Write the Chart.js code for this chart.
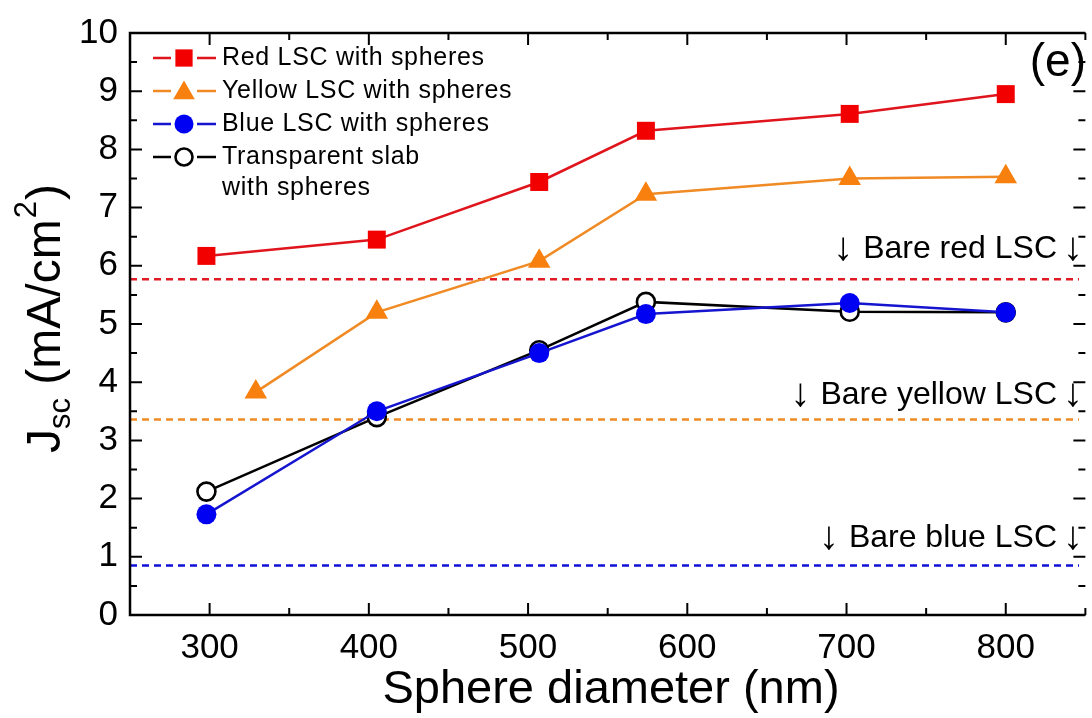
<!DOCTYPE html>
<html>
<head>
<meta charset="utf-8">
<script src="https://cdn.jsdelivr.net/npm/chart.js@4/dist/chart.umd.min.js"></script>
<style>
	html, body { margin: 0; padding: 0; background: #fff; overflow: hidden; }
	canvas { display: block; }
</style>
</head>
<body>
<canvas id="chart" width="1092" height="718"></canvas>
<script>
// values
const diameters = [298, 405, 507, 574, 702, 800];
const yellow_diameters = [329, 405, 507, 574, 702, 800];
const red_jsc = [6.17, 6.45, 7.44, 8.32, 8.61, 8.95];
const yellow_jsc = [3.83, 5.2, 6.08, 7.23, 7.5, 7.53];
const blue_jsc = [1.73, 3.5, 4.5, 5.17, 5.36, 5.2];
const slab_jsc = [2.12, 3.4, 4.55, 5.38, 5.21, 5.2];
const bare_red = 5.77;
const bare_yellow = 3.36;
const bare_blue = 0.85;
// the frame runs 250..850, the picture is cut off just before 850
const x_range = [250, 850];
const x_visible_max = 846;
const x_ticks = [300, 400, 500, 600, 700, 800];
const y_ticks = [0, 1, 2, 3, 4, 5, 6, 7, 8, 9, 10];

const FONT = '"Liberation Sans", Arial, sans-serif';

const to_points = (xs, ys) => xs.map((x, i) => ({ x: x, y: ys[i] }));

const series = [
	{ label: 'Red LSC with spheres', xs: diameters, ys: red_jsc, line: '#e0141c', mark: '#f20000', style: 'rect', r: 12.7, order: 4 },
	{ label: 'Yellow LSC with spheres', xs: yellow_diameters, ys: yellow_jsc, line: '#f08a24', mark: '#f7800f', style: 'triangle', r: 13, order: 3 },
	{ label: 'Blue LSC with spheres', xs: diameters, ys: blue_jsc, line: '#1515d0', mark: '#0000f2', style: 'circle', r: 10, order: 1 },
	{ label: 'Transparent slab|with spheres', xs: diameters, ys: slab_jsc, line: '#000000', mark: '#ffffff', style: 'circle', r: 9, order: 2, open: true },
];

const bare_lines = [
	{ value: bare_red, color: '#e01b24', text: 'Bare red LSC', ty: 249 },
	{ value: bare_yellow, color: '#f08a24', text: 'Bare yellow LSC', ty: 395 },
	{ value: bare_blue, color: '#1010d8', text: 'Bare blue LSC', ty: 538 },
];

const datasets = series.map(s => ({
	label: s.label,
	data: to_points(s.xs, s.ys),
	borderColor: s.line,
	borderWidth: 2.5,
	pointStyle: s.style,
	pointRadius: s.r,
	pointHoverRadius: s.r,
	pointBackgroundColor: s.mark,
	pointBorderColor: s.open ? '#000000' : s.mark,
	pointBorderWidth: s.open ? 2.6 : 0,
	order: s.order,
}));

bare_lines.forEach(b => {
	datasets.push({
		label: b.text,
		data: [{ x: x_range[0], y: b.value }, { x: x_range[1], y: b.value }],
		borderColor: b.color,
		borderWidth: 2.6,
		borderDash: [7, 5],
		pointRadius: 0,
		order: 5,
	});
});

const frame_plugin = {
	id: 'frame',
	afterDatasetsDraw(chart) {
		const { ctx, chartArea: a, scales } = chart;
		const x = scales.x, y = scales.y;
		const right = x.getPixelForValue(x_range[1]);
		ctx.save();
		ctx.strokeStyle = '#000';
		ctx.lineWidth = 2.5;
		// left, bottom and top sides; the right side lies past the edge of the picture
		ctx.beginPath();
		ctx.moveTo(right, a.top); ctx.lineTo(a.left, a.top);
		ctx.lineTo(a.left, a.bottom); ctx.lineTo(right, a.bottom);
		ctx.stroke();
		ctx.lineWidth = 2;
		ctx.beginPath();
		for (let v = x_range[0]; v <= x_range[1]; v += 50) {
			const len = v % 100 === 0 ? 12 : 7;
			const px = x.getPixelForValue(v);
			ctx.moveTo(px, a.bottom); ctx.lineTo(px, a.bottom - len);
			ctx.moveTo(px, a.top); ctx.lineTo(px, a.top + len);
		}
		for (let v = 0; v <= 10; v += 0.5) {
			const len = v % 1 === 0 ? 12 : 7;
			const py = y.getPixelForValue(v);
			ctx.moveTo(a.left, py); ctx.lineTo(a.left + len, py);
			ctx.moveTo(right, py); ctx.lineTo(right - len, py);
		}
		ctx.stroke();
		ctx.restore();
	},
	afterDraw(chart) {
		const { ctx } = chart;
		ctx.save();
		ctx.fillStyle = '#000';

		// x title
		ctx.font = '47px ' + FONT;
		ctx.textAlign = 'center';
		ctx.textBaseline = 'alphabetic';
		ctx.fillText('Sphere diameter (nm)', 611, 703);

		// y title, J_sc (mA/cm^2)
		ctx.save();
		ctx.translate(60, 453);
		ctx.rotate(-Math.PI / 2);
		ctx.textAlign = 'left';
		let cx = 0;
		const big = '48px ' + FONT, small = '31px ' + FONT;
		ctx.font = big; ctx.fillText('J', cx, 0); cx += ctx.measureText('J').width;
		ctx.font = small; ctx.fillText('sc', cx, 10); cx += ctx.measureText('sc').width;
		ctx.font = big; ctx.fillText(' (mA/cm', cx, 0); cx += ctx.measureText(' (mA/cm').width;
		ctx.font = small; ctx.fillText('2', cx + 1, -24); cx += ctx.measureText('2').width + 2;
		ctx.font = big; ctx.fillText(')', cx, 0);
		ctx.restore();

		// panel letter
		ctx.font = '46px ' + FONT;
		ctx.textAlign = 'right';
		ctx.textBaseline = 'middle';
		ctx.fillText('(e)', 1086, 63);

		// bare LSC notes, arrows drawn a bit taller than the words
		bare_lines.forEach(b => {
			ctx.textAlign = 'right';
			ctx.font = '40px ' + FONT;
			ctx.fillText('\u2193', 1083, b.ty);
			const aw = ctx.measureText('\u2193').width;
			ctx.font = '32px ' + FONT;
			const word_right = 1083 - aw - 6;
			ctx.fillText(b.text, word_right, b.ty);
			const tw = ctx.measureText(b.text).width;
			ctx.font = '40px ' + FONT;
			ctx.fillText('\u2193', word_right - tw - 10, b.ty);
		});

		// legend
		const rows = [58, 91, 124, 157];
		const legend_order = [0, 1, 2, 3];
		ctx.font = '25px ' + FONT;
		ctx.textAlign = 'left';
		ctx.letterSpacing = '0.7px';
		legend_order.forEach((k, i) => {
			const s = series[k];
			const ly = rows[i];
			ctx.strokeStyle = s.line;
			ctx.lineWidth = 2.6;
			ctx.beginPath();
			ctx.moveTo(153, ly); ctx.lineTo(171, ly);
			ctx.moveTo(197, ly); ctx.lineTo(216, ly);
			ctx.stroke();
			ctx.fillStyle = s.mark;
			ctx.strokeStyle = s.open ? '#000' : s.mark;
			Chart.helpers.drawPoint(ctx, { pointStyle: s.style, radius: s.r - 0.5, rotation: 0, borderWidth: s.open ? 2.6 : 0 }, 184, ly + (s.style === 'triangle' ? 2 : 0));
			ctx.fillStyle = '#000';
			const parts = s.label.split('|');
			parts.forEach((p, j) => ctx.fillText(p, 222, ly + j * 31));
		});
		ctx.restore();
	}
};

new Chart(document.getElementById('chart'), {
	type: 'line',
	data: { datasets: datasets },
	options: {
		responsive: false,
		animation: false,
		events: [],
		layout: { padding: { top: 26, right: 0, left: 0, bottom: 0 } },
		plugins: { legend: { display: false }, tooltip: { enabled: false } },
		scales: {
			x: {
				type: 'linear',
				min: x_range[0],
				max: x_visible_max,
				grid: { display: false, drawTicks: false },
				border: { display: false },
				afterBuildTicks: (scale) => { scale.ticks = x_ticks.map(v => ({ value: v })); },
				afterFit: (scale) => { scale.height = 103; },
				ticks: { font: { family: FONT, size: 35 }, color: '#000', padding: 12, maxRotation: 0 },
			},
			y: {
				type: 'linear',
				min: 0,
				max: 10,
				grid: { display: false, drawTicks: false },
				border: { display: false },
				afterBuildTicks: (scale) => { scale.ticks = y_ticks.map(v => ({ value: v })); },
				afterFit: (scale) => { scale.width = 130; },
				ticks: { font: { family: FONT, size: 35 }, color: '#000', padding: 12 },
			}
		}
	},
	plugins: [frame_plugin]
});
</script>
</body>
</html>
